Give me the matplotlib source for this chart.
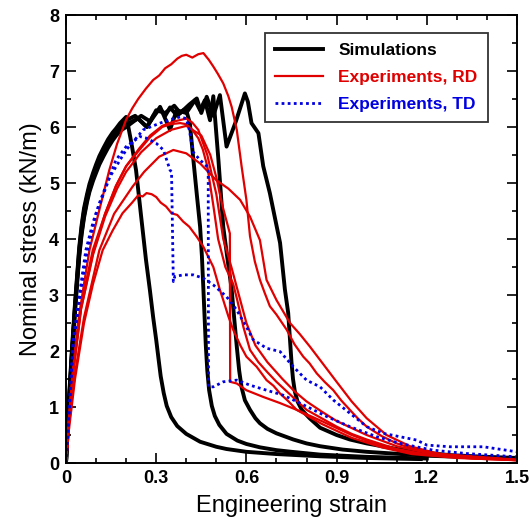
import matplotlib
matplotlib.use("Agg")
import matplotlib.pyplot as plt
from matplotlib.ticker import MultipleLocator, FixedLocator

plt.rcParams['font.family'] = ['Liberation Sans', 'DejaVu Sans']

# ---------------- data ----------------
# Simulations (black)
sim1_x = [0, 0.005, 0.01, 0.015, 0.02, 0.03, 0.037, 0.044, 0.052, 0.06, 0.07, 0.078, 0.09, 0.1, 0.111, 0.125,
          0.14, 0.155, 0.166, 0.18, 0.2, 0.205, 0.218, 0.233, 0.25, 0.266, 0.279, 0.29, 0.30, 0.308, 0.315,
          0.325, 0.335, 0.35, 0.37, 0.4, 0.446, 0.5, 0.534, 0.6, 0.7, 0.845, 1.0, 1.18]
sim1_y = [0, 0.6, 1.15, 1.6, 2.05, 2.85, 3.35, 3.85, 4.25, 4.55, 4.8, 4.98, 5.18, 5.33, 5.48, 5.63,
          5.78, 5.9, 5.97, 6.07, 6.18, 6.07, 5.7, 5.23, 4.4, 3.63, 3.09, 2.6, 2.2, 1.85, 1.55,
          1.25, 1.02, 0.82, 0.66, 0.52, 0.38, 0.29, 0.25, 0.2, 0.16, 0.12, 0.09, 0.07]

sim2_x = [0, 0.005, 0.01, 0.015, 0.02, 0.03, 0.037, 0.044, 0.052, 0.06, 0.07, 0.078, 0.09, 0.1, 0.111, 0.125,
          0.14, 0.155, 0.166, 0.18, 0.2, 0.23, 0.25, 0.27, 0.29, 0.313, 0.33, 0.346, 0.37, 0.39, 0.40, 0.412,
          0.423, 0.435, 0.446, 0.452, 0.457, 0.461, 0.465, 0.47, 0.476, 0.485, 0.495, 0.51, 0.534, 0.57, 0.6,
          0.645, 0.7, 0.75, 0.845, 1.0, 1.2]
sim2_y = [0, 0.58, 1.1, 1.55, 2.0, 2.8, 3.3, 3.8, 4.2, 4.5, 4.75, 4.93, 5.13, 5.28, 5.43, 5.58,
          5.73, 5.86, 5.93, 6.03, 6.12, 6.2, 6.1, 6.0, 6.2, 6.33, 6.2, 6.35, 6.2, 6.3, 6.3, 6.07,
          5.45, 4.8, 4.22, 3.7, 3.1, 2.6, 2.1, 1.65, 1.3, 1.02, 0.84, 0.68, 0.52, 0.4, 0.34,
          0.28, 0.23, 0.2, 0.15, 0.11, 0.08]

sim3_x = [0, 0.005, 0.01, 0.015, 0.02, 0.03, 0.037, 0.044, 0.052, 0.06, 0.07, 0.078, 0.09, 0.1, 0.111, 0.125,
          0.14, 0.155, 0.166, 0.18, 0.2, 0.24, 0.268, 0.3, 0.313, 0.346, 0.368, 0.4, 0.429, 0.446, 0.462,
          0.479, 0.49, 0.507, 0.523, 0.537, 0.551, 0.56, 0.568, 0.576, 0.584, 0.595, 0.612, 0.63, 0.645,
          0.67, 0.7, 0.756, 0.8, 0.845, 0.92, 1.0, 1.2, 1.5]
sim3_y = [0, 0.55, 1.05, 1.5, 1.95, 2.75, 3.25, 3.72, 4.12, 4.42, 4.7, 4.88, 5.08, 5.23, 5.38, 5.53,
          5.68, 5.8, 5.88, 5.97, 6.05, 6.15, 6.0, 6.25, 6.36, 5.95, 6.3, 6.25, 6.48, 6.3, 6.48,
          6.12, 6.55, 5.41, 4.22, 3.65, 3.1, 2.55, 2.08, 1.65, 1.35, 1.12, 0.95, 0.8, 0.71,
          0.61, 0.53, 0.42, 0.35, 0.3, 0.24, 0.2, 0.13, 0.08]

sim4_x = [0, 0.005, 0.01, 0.015, 0.02, 0.03, 0.037, 0.044, 0.052, 0.06, 0.07, 0.078, 0.09, 0.1, 0.111, 0.125,
          0.14, 0.155, 0.166, 0.18, 0.2, 0.25, 0.28, 0.3, 0.33, 0.36, 0.38, 0.41, 0.435, 0.45, 0.468, 0.49,
          0.512, 0.534, 0.565, 0.595, 0.605, 0.617, 0.64, 0.656, 0.678, 0.712, 0.728, 0.739, 0.745, 0.75,
          0.755, 0.761, 0.77, 0.784, 0.81, 0.845, 0.9, 0.944, 1.0, 1.11, 1.2, 1.28, 1.4, 1.5]
sim4_y = [0, 0.55, 1.02, 1.47, 1.9, 2.7, 3.2, 3.68, 4.08, 4.38, 4.66, 4.84, 5.04, 5.18, 5.33, 5.48,
          5.63, 5.76, 5.84, 5.93, 6.0, 6.2, 6.1, 6.3, 6.25, 6.38, 6.25, 6.4, 6.51, 6.25, 6.54, 6.2,
          6.57, 5.65, 6.1, 6.6, 6.45, 6.07, 5.89, 5.3, 4.82, 3.93, 3.1, 2.68, 2.2, 1.8,
          1.5, 1.28, 1.1, 0.95, 0.8, 0.63, 0.5, 0.42, 0.35, 0.24, 0.18, 0.14, 0.11, 0.09]

# Experiments, RD (red)
rd1_x = [0, 0.01, 0.02, 0.04, 0.06, 0.078, 0.111, 0.144, 0.17, 0.2, 0.22, 0.24, 0.265, 0.29, 0.31, 0.33, 0.35,
         0.37, 0.385, 0.40, 0.42, 0.44, 0.457, 0.475, 0.49, 0.505, 0.523, 0.54, 0.551, 0.568, 0.584, 0.6,
         0.612, 0.628, 0.645, 0.66, 0.678, 0.7, 0.734, 0.76, 0.789, 0.81, 0.834, 0.86, 0.889, 0.915, 0.944,
         0.97, 1.0, 1.05, 1.1, 1.15, 1.2, 1.3, 1.4, 1.5]
rd1_y = [0, 0.8, 1.5, 2.5, 3.2, 3.8, 4.52, 5.23, 5.7, 6.13, 6.33, 6.5, 6.68, 6.84, 6.92, 7.05, 7.12,
         7.22, 7.27, 7.29, 7.24, 7.3, 7.32, 7.2, 7.08, 6.95, 6.78, 6.55, 6.36, 5.95, 5.3, 4.7,
         4.05, 3.6, 3.27, 3.05, 2.8, 2.65, 2.38, 2.12, 1.9, 1.78, 1.6, 1.45, 1.3, 1.12, 0.95,
         0.8, 0.65, 0.48, 0.35, 0.26, 0.2, 0.12, 0.08, 0.05]

rd2_x = [0, 0.01, 0.025, 0.05, 0.089, 0.13, 0.166, 0.2, 0.244, 0.28, 0.32, 0.346, 0.38, 0.40, 0.42, 0.44, 0.455,
         0.47, 0.49, 0.506, 0.53, 0.556, 0.57, 0.59, 0.612, 0.64, 0.67, 0.7, 0.75, 0.8, 0.85, 0.9, 0.95, 1.0,
         1.1, 1.2, 1.35, 1.5]
rd2_y = [0, 0.8, 1.7, 2.8, 3.8, 4.45, 4.94, 5.3, 5.59, 5.82, 6.0, 6.05, 6.07, 6.05, 5.95, 5.8, 5.6,
         5.3, 4.6, 4.0, 3.5, 3.2, 2.9, 2.43, 2.02, 1.8, 1.62, 1.45, 1.2, 0.95, 0.8, 0.65, 0.52, 0.42,
         0.25, 0.15, 0.08, 0.05]

rd3_x = [0, 0.01, 0.025, 0.05, 0.09, 0.13, 0.166, 0.2, 0.244, 0.28, 0.32, 0.36, 0.40, 0.42, 0.44, 0.47, 0.5,
         0.523, 0.55, 0.57, 0.6, 0.63, 0.67, 0.72, 0.76, 0.8, 0.85, 0.9, 1.0, 1.1, 1.2, 1.5]
rd3_y = [0, 0.75, 1.65, 2.75, 3.75, 4.45, 4.95, 5.3, 5.62, 5.85, 6.02, 6.1, 6.15, 6.08, 5.95, 5.5, 4.8,
         4.0, 3.5, 3.1, 2.5, 2.1, 1.8, 1.5, 1.28, 1.1, 0.92, 0.75, 0.5, 0.3, 0.18, 0.06]

rd4_x = [0, 0.01, 0.03, 0.06, 0.111, 0.16, 0.222, 0.26, 0.31, 0.357, 0.40, 0.446, 0.5, 0.54, 0.579, 0.612, 0.645,
         0.667, 0.7, 0.745, 0.778, 0.811, 0.845, 0.9, 0.95, 1.0, 1.066, 1.144, 1.25, 1.5]
rd4_y = [0, 0.7, 1.6, 2.6, 3.8, 4.45, 4.94, 5.2, 5.47, 5.59, 5.53, 5.35, 5.05, 4.9, 4.7, 4.4, 3.98,
         3.27, 2.91, 2.5, 2.3, 2.08, 1.84, 1.45, 1.1, 0.8, 0.5, 0.3, 0.15, 0.05]

rd5_x = [0, 0.01, 0.03, 0.06, 0.09, 0.122, 0.155, 0.188, 0.22, 0.24, 0.255, 0.268, 0.285, 0.3, 0.315, 0.333,
         0.351, 0.37, 0.39, 0.41, 0.435, 0.457, 0.49, 0.512, 0.523, 0.54, 0.556, 0.58, 0.6, 0.634, 0.667,
         0.69, 0.712, 0.74, 0.767, 0.81, 0.85, 0.95, 1.05, 1.15, 1.3, 1.5]
rd5_y = [0, 0.6, 1.5, 2.5, 3.2, 3.8, 4.15, 4.46, 4.65, 4.78, 4.76, 4.82, 4.8, 4.75, 4.65, 4.58,
         4.46, 4.43, 4.31, 4.22, 4.04, 3.86, 3.5, 3.09, 2.91, 2.62, 2.38, 2.1, 1.9, 1.72, 1.48,
         1.38, 1.24, 1.1, 0.95, 0.82, 0.7, 0.45, 0.28, 0.16, 0.09, 0.05]

rd6_x = [0, 0.01, 0.025, 0.05, 0.09, 0.13, 0.17, 0.2, 0.25, 0.3, 0.35, 0.40, 0.45, 0.48, 0.5, 0.52, 0.54, 0.545,
         0.546, 0.568, 0.6, 0.656, 0.712, 0.767, 0.85, 0.95, 1.05, 1.15, 1.3, 1.5]
rd6_y = [0, 0.78, 1.68, 2.75, 3.72, 4.4, 4.9, 5.2, 5.55, 5.8, 5.95, 6.02, 5.85, 5.5, 5.1, 4.6, 4.2, 4.1,
         1.45, 1.42, 1.3, 1.18, 1.07, 0.95, 0.75, 0.5, 0.3, 0.18, 0.1, 0.06]

# Experiments, TD (blue)
td1_x = [0, 0.01, 0.024, 0.047, 0.066, 0.09, 0.111, 0.14, 0.166, 0.2, 0.246, 0.268, 0.3, 0.324, 0.346, 0.351,
         0.357, 0.362, 0.39, 0.423, 0.457, 0.49, 0.534, 0.568, 0.6, 0.623, 0.667, 0.712, 0.756, 0.8, 0.845,
         0.889, 0.944, 1.0, 1.055, 1.11, 1.166, 1.2, 1.277, 1.388, 1.5]
td1_y = [0, 0.9, 2.2, 3.09, 3.8, 4.3, 4.64, 5.05, 5.41, 5.65, 5.83, 5.8, 5.71, 5.59, 5.23, 5.2,
         3.24, 3.33, 3.36, 3.36, 3.3, 3.18, 2.97, 2.73, 2.43, 2.2, 2.05, 1.99, 1.72, 1.48, 1.36,
         1.125, 0.89, 0.65, 0.53, 0.47, 0.41, 0.32, 0.29, 0.29, 0.2]

td2_x = [0, 0.01, 0.024, 0.047, 0.07, 0.1, 0.146, 0.2, 0.257, 0.313, 0.357, 0.38, 0.40, 0.41, 0.423, 0.446, 0.47,
         0.473, 0.474, 0.49, 0.523, 0.568, 0.612, 0.667, 0.723, 0.778, 0.867, 0.944, 1.033, 1.11, 1.22, 1.33, 1.5]
td2_y = [0, 0.85, 2.1, 3.0, 3.75, 4.45, 5.11, 5.59, 5.95, 6.07, 6.15, 6.18, 6.15, 5.95, 5.55, 5.41, 5.29,
         5.25, 1.36, 1.36, 1.45, 1.48, 1.39, 1.3, 1.21, 1.07, 0.83, 0.65, 0.47, 0.35, 0.23, 0.17, 0.11]

x_ticks = [0, 0.3, 0.6, 0.9, 1.2, 1.5]
x_tick_labels = ["0", "0.3", "0.6", "0.9", "1.2", "1.5"]
y_ticks = [0, 1, 2, 3, 4, 5, 6, 7, 8]

# ---------------- plot ----------------
fig = plt.figure(figsize=(5.30, 5.23), dpi=100)
ax = fig.add_axes([0.1245, 0.1147, 0.851, 0.8566])

black_kw = dict(color='black', lw=2.8, solid_joinstyle='round')
for i, (xs, ys) in enumerate([(sim1_x, sim1_y), (sim2_x, sim2_y), (sim3_x, sim3_y), (sim4_x, sim4_y)]):
    ax.plot(xs, ys, label='Simulations' if i == 0 else None, **black_kw)

red_kw = dict(color='#e00000', lw=1.6)
for i, (xs, ys) in enumerate([(rd1_x, rd1_y), (rd2_x, rd2_y), (rd3_x, rd3_y), (rd4_x, rd4_y),
                              (rd5_x, rd5_y), (rd6_x, rd6_y)]):
    ax.plot(xs, ys, label='Experiments, RD' if i == 0 else None, **red_kw)

blue_kw = dict(color='#0000e0', lw=2.0, linestyle=(0, (1.0, 1.2)))
for i, (xs, ys) in enumerate([(td1_x, td1_y), (td2_x, td2_y)]):
    ax.plot(xs, ys, label='Experiments, TD' if i == 0 else None, **blue_kw)

ax.set_xlim(0, 1.5)
ax.set_ylim(0, 8)
ax.xaxis.set_major_locator(FixedLocator(x_ticks))
ax.set_xticklabels(x_tick_labels)
ax.xaxis.set_minor_locator(MultipleLocator(0.1))
ax.yaxis.set_major_locator(FixedLocator(y_ticks))
ax.yaxis.set_minor_locator(MultipleLocator(0.5))

ax.tick_params(which='both', direction='in', top=True, right=True, width=1.2)
ax.tick_params(which='major', length=7, labelsize=13, pad=5)
ax.tick_params(which='minor', length=3.5)
for lab in ax.get_xticklabels() + ax.get_yticklabels():
    lab.set_fontweight('bold')
for s in ax.spines.values():
    s.set_linewidth(1.4)

ax.set_xlabel('Engineering strain', fontsize=17, labelpad=6)
ax.set_ylabel('Nominal stress (kN/m)', fontsize=17, labelpad=5)

leg = ax.legend(loc='upper right', bbox_to_anchor=(0.936, 0.96), fontsize=12.5, frameon=True,
                fancybox=False, edgecolor='black', handlelength=2.75, handletextpad=0.9,
                borderpad=0.6, labelspacing=0.66, borderaxespad=0.0)
leg.get_frame().set_linewidth(1.3)
for txt, col in zip(leg.get_texts(), ['black', '#e00000', '#0000e0']):
    txt.set_color(col)
    txt.set_fontweight('bold')

fig.savefig('out.png', dpi=100)
